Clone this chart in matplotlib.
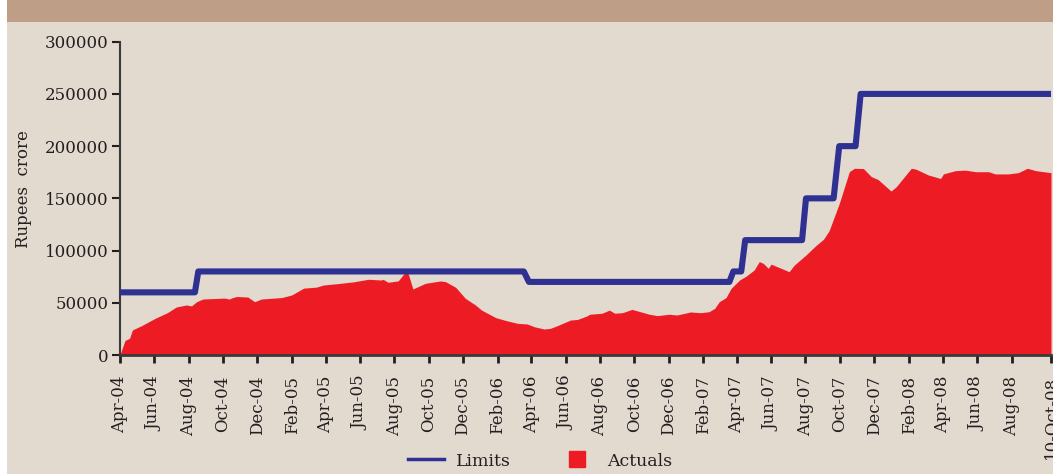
import matplotlib
matplotlib.use("Agg")
import matplotlib.pyplot as plt
import pandas as pd
from matplotlib.patches import Rectangle
from matplotlib.lines import Line2D

# ---------------- data ----------------
actual_dates = [
    "2004-04-01", "2004-04-04", "2004-04-10", "2004-04-18", "2004-04-23", "2004-05-09",
    "2004-06-02", "2004-06-24", "2004-07-10", "2004-07-28", "2004-08-06", "2004-08-15",
    "2004-08-26", "2004-10-04", "2004-10-12", "2004-10-18", "2004-10-25", "2004-11-14",
    "2004-11-26", "2004-12-08", "2005-01-13", "2005-01-31", "2005-02-21", "2005-03-16",
    "2005-03-28", "2005-04-27", "2005-05-20", "2005-06-16", "2005-07-09", "2005-07-12",
    "2005-07-21", "2005-08-08", "2005-08-14", "2005-08-21", "2005-08-26", "2005-09-03",
    "2005-09-25", "2005-10-22", "2005-10-31", "2005-11-18", "2005-12-05", "2005-12-23",
    "2006-01-03", "2006-01-28", "2006-02-18", "2006-03-08", "2006-03-25", "2006-04-07",
    "2006-04-24", "2006-05-05", "2006-05-17", "2006-06-10", "2006-06-22", "2006-07-09",
    "2006-07-14", "2006-08-05", "2006-08-18", "2006-08-27", "2006-09-10", "2006-09-27",
    "2006-10-28", "2006-11-11", "2006-12-02", "2006-12-16", "2007-01-09", "2007-01-27",
    "2007-02-11", "2007-02-21", "2007-03-01", "2007-03-13", "2007-03-22", "2007-04-06",
    "2007-04-18", "2007-05-02", "2007-05-11", "2007-05-18", "2007-05-27", "2007-06-01",
    "2007-07-03", "2007-07-12", "2007-08-02", "2007-08-20", "2007-09-02", "2007-09-12",
    "2007-09-30", "2007-10-18", "2007-10-27", "2007-11-12", "2007-11-26", "2007-12-08",
    "2007-12-31", "2008-01-09", "2008-02-05", "2008-02-13", "2008-03-06", "2008-03-28",
    "2008-04-02", "2008-04-23", "2008-05-11", "2008-05-29", "2008-06-21", "2008-07-03",
    "2008-07-26", "2008-08-13", "2008-08-29", "2008-09-13", "2008-10-10",
]
actual_values = [
    0, 5000, 14000, 16000, 24000, 28000,
    35000, 40500, 46000, 47900, 47000, 51000,
    53600, 54500, 53600, 55000, 56000, 55500,
    51000, 53600, 55000, 57500, 64000, 65000,
    67000, 68600, 70000, 72500, 71800, 72500,
    69600, 71000, 75000, 79800, 77400, 63200,
    68600, 70900, 70200, 64800, 54300, 47900,
    43000, 35800, 32600, 30300, 29700, 27000,
    24900, 25500, 28000, 33500, 34000, 37400,
    39000, 40000, 43000, 40000, 40500, 43700,
    39000, 37700, 39000, 38300, 41200, 40500,
    41500, 44700, 51000, 55000, 63800, 71800,
    75600, 81400, 89400, 87800, 83000, 87000,
    79800, 86000, 95800, 105000, 110800, 119000,
    145000, 175600, 178800, 178500, 170800, 168000,
    157000, 161000, 178800, 178000, 172400, 169000,
    173400, 176500, 177000, 175500, 175500, 173400,
    173400, 174600, 178800, 176500, 174600,
]

limit_dates = [
    "2004-04-01", "2004-08-12", "2004-08-18", "2006-03-19", "2006-03-28",
    "2007-03-19", "2007-03-26", "2007-04-09", "2007-04-16", "2007-07-26",
    "2007-08-02", "2007-09-20", "2007-09-30", "2007-10-29", "2007-11-07",
    "2008-10-10",
]
limit_values = [
    60000, 60000, 80000, 80000, 70000,
    70000, 80000, 80000, 110000, 110000,
    150000, 150000, 200000, 200000, 250000,
    250000,
]

tick_dates = [
    "2004-04-01", "2004-06-01", "2004-08-01", "2004-10-01", "2004-12-01",
    "2005-02-01", "2005-04-01", "2005-06-01", "2005-08-01", "2005-10-01", "2005-12-01",
    "2006-02-01", "2006-04-01", "2006-06-01", "2006-08-01", "2006-10-01", "2006-12-01",
    "2007-02-01", "2007-04-01", "2007-06-01", "2007-08-01", "2007-10-01", "2007-12-01",
    "2008-02-01", "2008-04-01", "2008-06-01", "2008-08-01", "2008-10-10",
]
tick_labels = [
    "Apr-04", "Jun-04", "Aug-04", "Oct-04", "Dec-04",
    "Feb-05", "Apr-05", "Jun-05", "Aug-05", "Oct-05", "Dec-05",
    "Feb-06", "Apr-06", "Jun-06", "Aug-06", "Oct-06", "Dec-06",
    "Feb-07", "Apr-07", "Jun-07", "Aug-07", "Oct-07", "Dec-07",
    "Feb-08", "Apr-08", "Jun-08", "Aug-08", "10-Oct-08",
]
y_ticks = [0, 50000, 100000, 150000, 200000, 250000, 300000]

# ---------------- style ----------------
RED = "#ED1C24"
BLUE = "#2E3192"
INK = "#231F20"
BEIGE = "#E2D9CF"
BROWN = "#BF9E88"
FONT = "DejaVu Serif"

W, H = 1053, 475
fig = plt.figure(figsize=(W / 100, H / 100), dpi=100, facecolor="white")

# background panels (behind the axes)
fig.patches.append(Rectangle((7 / W, 1 / H), 1 - 7 / W, (453 - 1) / H,
                             transform=fig.transFigure, facecolor=BEIGE,
                             edgecolor="none", zorder=-10))
fig.patches.append(Rectangle((7 / W, 453 / H), 1 - 7 / W, 22 / H,
                             transform=fig.transFigure, facecolor=BROWN,
                             edgecolor="none", zorder=-10))

left, right = 120 / W, 1051 / W
bottom, top = 1 - 355 / H, 1 - 41.7 / H
ax = fig.add_axes([left, bottom, right - left, top - bottom])
ax.set_facecolor("none")
ax.set_zorder(1)

ad = pd.to_datetime(actual_dates)
ld = pd.to_datetime(limit_dates)
td = pd.to_datetime(tick_dates)

ax.fill_between(ad, 0, actual_values, color=RED, linewidth=0, zorder=2)
ax.plot(ld, limit_values, color=BLUE, linewidth=4.4, zorder=3,
        solid_joinstyle="round", solid_capstyle="butt")

ax.set_xlim(td[0], td[-1])
ax.set_ylim(0, 300000)

ax.set_xticks(td)
ax.set_xticklabels(tick_labels, rotation=90, fontsize=12, family=FONT, color=INK)
ax.set_yticks(y_ticks)
ax.set_yticklabels([str(v) for v in y_ticks], fontsize=12, family=FONT, color=INK)

ax.tick_params(axis="x", direction="out", length=6, width=2, color=INK, pad=9)
ax.tick_params(axis="y", direction="out", length=6, width=1.5, color=INK, pad=2)

for s in ("top", "right"):
    ax.spines[s].set_visible(False)
ax.spines["left"].set_color("#3a3a3a")
ax.spines["left"].set_linewidth(1.5)
ax.spines["bottom"].set_color("#3a3a3a")
ax.spines["bottom"].set_linewidth(2)
ax.spines["bottom"].set_zorder(4)

ax.set_ylabel("Rupees  crore", fontsize=12, family=FONT, color=INK)
ax.yaxis.set_label_coords(-0.094, 0.53)

handles = [
    Line2D([], [], color=BLUE, linewidth=2.5),
    Line2D([], [], color=RED, marker="s", markersize=11, linestyle="None"),
]
leg = fig.legend(handles, ["Limits", "Actuals"], loc="center",
                 bbox_to_anchor=(540 / W, 1 - 461 / H), ncol=2, frameon=False,
                 prop={"family": FONT, "size": 12.5}, handlelength=2.1,
                 handletextpad=0.65, columnspacing=2.8, labelcolor=INK)
leg.set_zorder(2)

fig.savefig("out.png", dpi=100, facecolor="white")
